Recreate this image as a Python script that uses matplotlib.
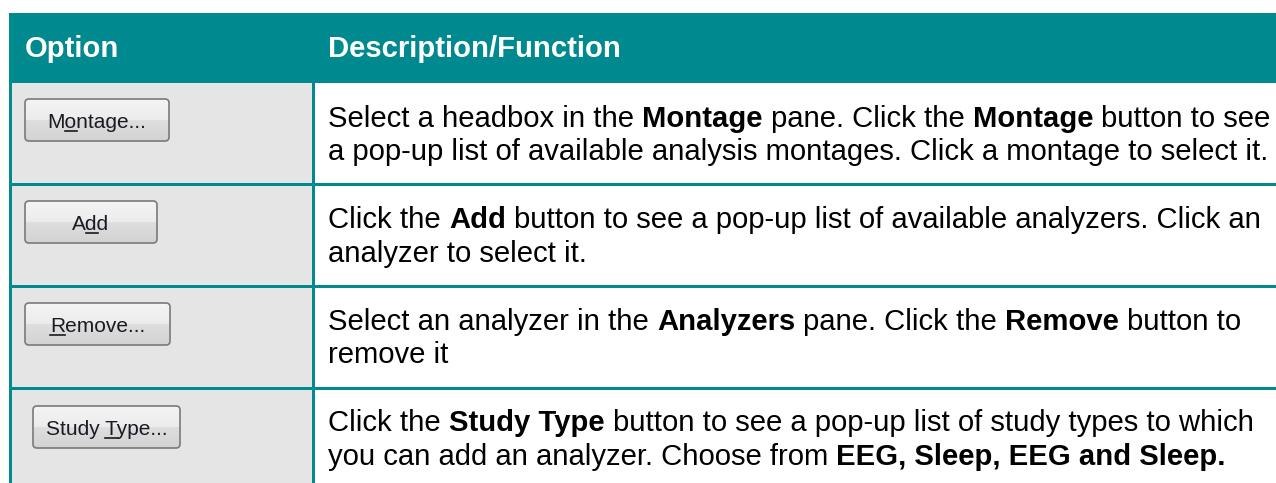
import matplotlib
matplotlib.use("Agg")
import numpy as np
import matplotlib.pyplot as plt
from matplotlib.patches import Rectangle, FancyBboxPatch
from matplotlib.colors import to_rgb

# table content
header = ["Option", "Description/Function"]
button_labels = ["Montage...", "Add", "Remove...", "Study Type..."]
button_mnemonic = [1, 1, 0, 6]   # index of the underlined letter
descriptions = [
    [[("Select a headbox in the ", 0), ("Montage", 1), (" pane. Click the ", 0),
      ("Montage", 1), (" button to see", 0)],
     [("a pop-up list of available analysis montages. Click a montage to select it.", 0)]],
    [[("Click the ", 0), ("Add", 1),
      (" button to see a pop-up list of available analyzers. Click an", 0)],
     [("analyzer to select it.", 0)]],
    [[("Select an analyzer in the ", 0), ("Analyzers", 1), (" pane. Click the ", 0),
      ("Remove", 1), (" button to", 0)],
     [("remove it", 0)]],
    [[("Click the ", 0), ("Study Type", 1),
      (" button to see a pop-up list of study types to which", 0)],
     [("you can add an analyzer. Choose from ", 0), ("EEG, Sleep, EEG and Sleep.", 1)]],
]

W, H = 1276, 483
TEAL = '#00898f'
GRAY = '#e5e5e5'
FONT = 'Liberation Sans'
BODY = 21.1
HEAD = 21.1
BTN = 15.0

# layout in pixels (y goes down)
row_bottoms = [185, 287, 389, 483]
baselines = [(127, 160), (228, 262), (330, 363), (431, 465)]
buttons = [(25, 99, 144, 42), (25, 201, 132, 42), (25, 303, 145, 42), (33, 406, 147, 42)]

fig = plt.figure(figsize=(W / 100, H / 100), dpi=100)
ax = fig.add_axes([0, 0, 1, 1])
ax.set_xlim(0, W)
ax.set_ylim(H, 0)
ax.axis('off')
renderer = fig.canvas.get_renderer()


def text_w(s, size, bold=False):
    t = ax.text(0, 0, s, fontsize=size, family=FONT,
                fontweight='bold' if bold else 'normal')
    w = t.get_window_extent(renderer).width
    t.remove()
    return w


# cell backgrounds and grid
ax.add_patch(Rectangle((9, 13), W - 9, 70, color=TEAL, lw=0))
ax.add_patch(Rectangle((12, 83), 300, H - 83, color=GRAY, lw=0))
ax.add_patch(Rectangle((315, 83), W - 315, H - 83, color='white', lw=0))
ax.add_patch(Rectangle((9, 83), 3, H - 83, color=TEAL, lw=0))
ax.add_patch(Rectangle((312, 83), 3, H - 83, color=TEAL, lw=0))
for yb in row_bottoms[:-1]:
    ax.add_patch(Rectangle((9, yb - 2), W - 9, 3, color=TEAL, lw=0))

# header
ax.text(25, 57, header[0], fontsize=HEAD, family=FONT, fontweight='bold',
        color='white', va='baseline')
ax.text(328, 57, header[1], fontsize=HEAD, family=FONT, fontweight='bold',
        color='white', va='baseline')

# descriptions with mixed bold text
sp = 0.278 * BODY * 100 / 72
for lines, bl in zip(descriptions, baselines):
    for segs, y in zip(lines, bl):
        x = 328
        for s, b in segs:
            core = s.strip(' ')
            x += (len(s) - len(s.lstrip(' '))) * sp
            if core:
                ax.text(x, y, core, fontsize=BODY, family=FONT, color='black',
                        fontweight='bold' if b else 'normal', va='baseline')
                x += text_w(core, BODY, b)
            x += (len(s) - len(s.rstrip(' '))) * sp

# buttons
top_c, mid1, mid2, bot_c = [np.array(to_rgb(c)) for c in ('#f4f4f4', '#ececec', '#dedede', '#d3d3d3')]
n = 100
grad = np.zeros((n, 1, 3))
for i in range(n):
    f = i / (n - 1)
    if f < 0.5:
        grad[i, 0] = top_c + (mid1 - top_c) * f / 0.5
    else:
        grad[i, 0] = mid2 + (bot_c - mid2) * (f - 0.5) / 0.5

for (bx, by, bw, bh), label, mi in zip(buttons, button_labels, button_mnemonic):
    patch = FancyBboxPatch((bx, by), bw, bh, boxstyle='round,pad=0,rounding_size=4',
                           fc='none', ec='#7a7a7a', lw=1.2, zorder=4)
    ax.add_patch(patch)
    im = ax.imshow(grad, extent=(bx, bx + bw, by + bh, by), aspect='auto', zorder=3)
    im.set_clip_path(patch)
    cx = bx + bw / 2
    cy = by + bh / 2
    tw = text_w(label, BTN)
    x0 = cx - tw / 2
    ybase = cy + 8
    ax.text(x0, ybase, label, fontsize=BTN, family=FONT, color='#1a1a24',
            va='baseline', zorder=5)
    ux0 = x0 + (text_w(label[:mi], BTN) if mi else 0)
    uw = text_w(label[mi], BTN)
    ax.plot([ux0, ux0 + uw], [ybase + 2.5, ybase + 2.5], color='#1a1a24', lw=1.2, zorder=5)

ax.set_xlim(0, W)
ax.set_ylim(H, 0)
fig.savefig('out.png', dpi=100)
